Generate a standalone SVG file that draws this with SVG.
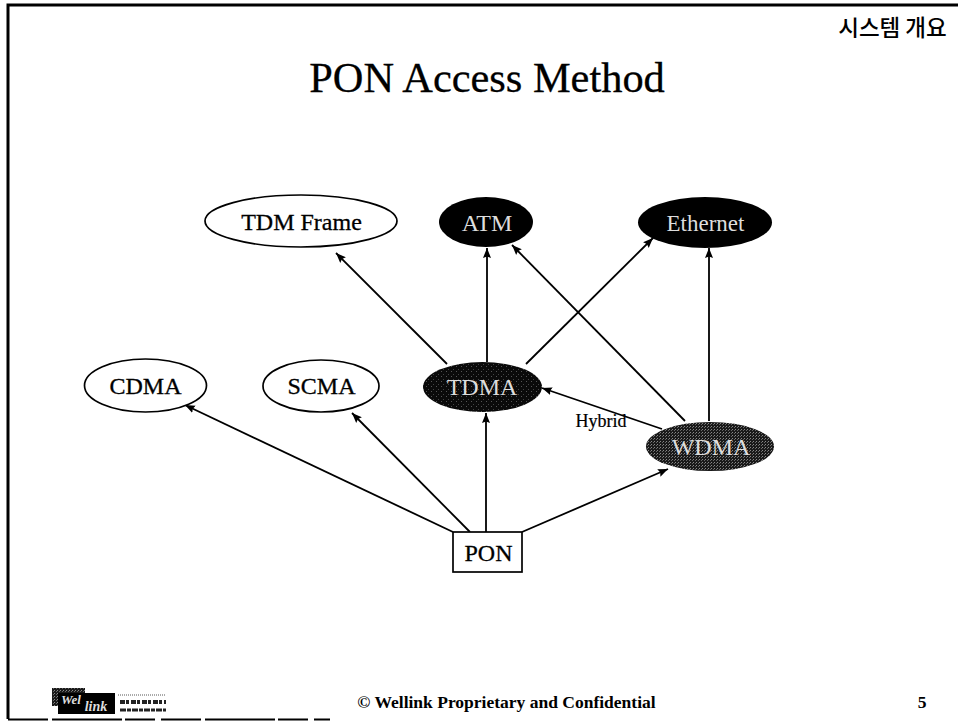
<svg xmlns="http://www.w3.org/2000/svg" width="958" height="721" viewBox="0 0 958 721">
<defs>
<marker id="arr" markerUnits="userSpaceOnUse" markerWidth="11" markerHeight="10" refX="10" refY="4.5" orient="auto"><path d="M0 0.5L10 4.5L0 8.5L1.5 4.5Z" fill="#000"/></marker>
<pattern id="dk" width="5" height="5" patternUnits="userSpaceOnUse"><rect width="5" height="5" fill="#0a0a0a"/><rect x="1" y="1" width="1" height="1" fill="#555"/><rect x="3" y="4" width="1" height="1" fill="#444"/></pattern>
<pattern id="gr" width="3" height="3" patternUnits="userSpaceOnUse"><rect width="3" height="3" fill="#1a1a1a"/><rect x="0" y="0" width="1" height="1" fill="#888"/><rect x="2" y="1" width="1" height="1" fill="#666"/></pattern>
</defs>
<style>
text{font-family:"Liberation Serif","Times New Roman",serif;fill:#000;text-anchor:middle}
.n{font-size:24px;stroke:#000;stroke-width:.3}
.w{font-size:24px;fill:#ddd}
.o{fill:#fff;stroke:#000;stroke-width:1.7}
.b{fill:#000}
.c{fill:none;stroke:#000;stroke-width:1.8;marker-end:url(#arr)}
.f{fill:none;stroke:#000}
</style>
<rect width="958" height="721" fill="#fff"/>
<g id="frame"><path class="f" stroke-width="3" d="M958 5H8V719"/><path class="f" stroke-width="2" stroke-dasharray="40 4 70 3 30 6" d="M8 719.5H330"/></g>
<text x="892.5" y="36" style="font-family:'Noto Sans CJK KR','Liberation Sans',sans-serif;font-size:22.5px;font-weight:500">시스템 개요</text>
<text x="487" y="92" style="font-size:42.4px;stroke:#000;stroke-width:.3">PON Access Method</text>
<g id="connectors">
<line class="c" x1="447" y1="364" x2="336" y2="253"/>
<line class="c" x1="487" y1="362" x2="487" y2="248"/>
<line class="c" x1="526" y1="364" x2="653" y2="238"/>
<line class="c" x1="685" y1="421" x2="512" y2="245"/>
<line class="c" x1="709" y1="421" x2="709" y2="248"/>
<line class="c" x1="662" y1="429" x2="542" y2="388"/>
<line class="c" x1="453" y1="532" x2="185" y2="405"/>
<line class="c" x1="470" y1="532" x2="352" y2="413"/>
<line class="c" x1="486" y1="532" x2="486" y2="413"/>
<line class="c" x1="522" y1="532" x2="668" y2="469"/>
</g>
<text x="601" y="427" style="font-size:18px;stroke:#000;stroke-width:.2">Hybrid</text>
<g id="tdm-frame"><ellipse class="o" cx="301" cy="221" rx="96" ry="26"/><text class="n" x="301.5" y="230">TDM Frame</text></g>
<g id="atm"><ellipse class="b" cx="486" cy="222" rx="47" ry="25"/><text class="w" x="487" y="231">ATM</text></g>
<g id="ethernet"><ellipse class="b" cx="705" cy="222.500" rx="67" ry="25.500"/><text class="w" x="705.500" y="231" style="font-size:23px">Ethernet</text></g>
<g id="cdma"><ellipse class="o" cx="145.500" cy="385.500" rx="61" ry="26.500"/><text class="n" x="145.500" y="394">CDMA</text></g>
<g id="scma"><ellipse class="o" cx="321" cy="386" rx="58" ry="26"/><text class="n" x="321.500" y="394">SCMA</text></g>
<g id="tdma"><ellipse cx="482.500" cy="387" rx="59.500" ry="25" fill="url(#dk)"/><text class="w" x="482" y="395">TDMA</text></g>
<g id="wdma"><ellipse cx="710" cy="446.500" rx="64" ry="24.500" fill="url(#gr)"/><text class="w" x="711" y="455">WDMA</text></g>
<g id="pon"><rect class="o" x="453" y="532" width="69" height="40"/><text class="n" x="488.500" y="561">PON</text></g>
<g id="logo"><rect x="52" y="688" width="33" height="18" fill="url(#gr)"/><rect class="b" x="58" y="693" width="57" height="21"/><text x="71" y="704" style="font-size:13px;font-style:italic;font-weight:700;fill:#ddd">Wel</text><text x="96" y="711" style="font-size:14px;font-style:italic;font-weight:700;fill:#ddd">link</text>
<path d="M118 695H166" stroke="#555" stroke-width="1" stroke-dasharray="1 1"/><path d="M120 702H166" stroke="#222" stroke-width="4" stroke-dasharray="5 1 3 2"/><path d="M120 710H166" stroke="#222" stroke-width="3" stroke-dasharray="6 1 4 1"/></g>
<text x="506.500" y="708" style="font-size:17.500px;font-weight:700">© Wellink Proprietary and Confidential</text>
<text x="922" y="708" style="font-size:17.500px;font-weight:700">5</text>
</svg>
